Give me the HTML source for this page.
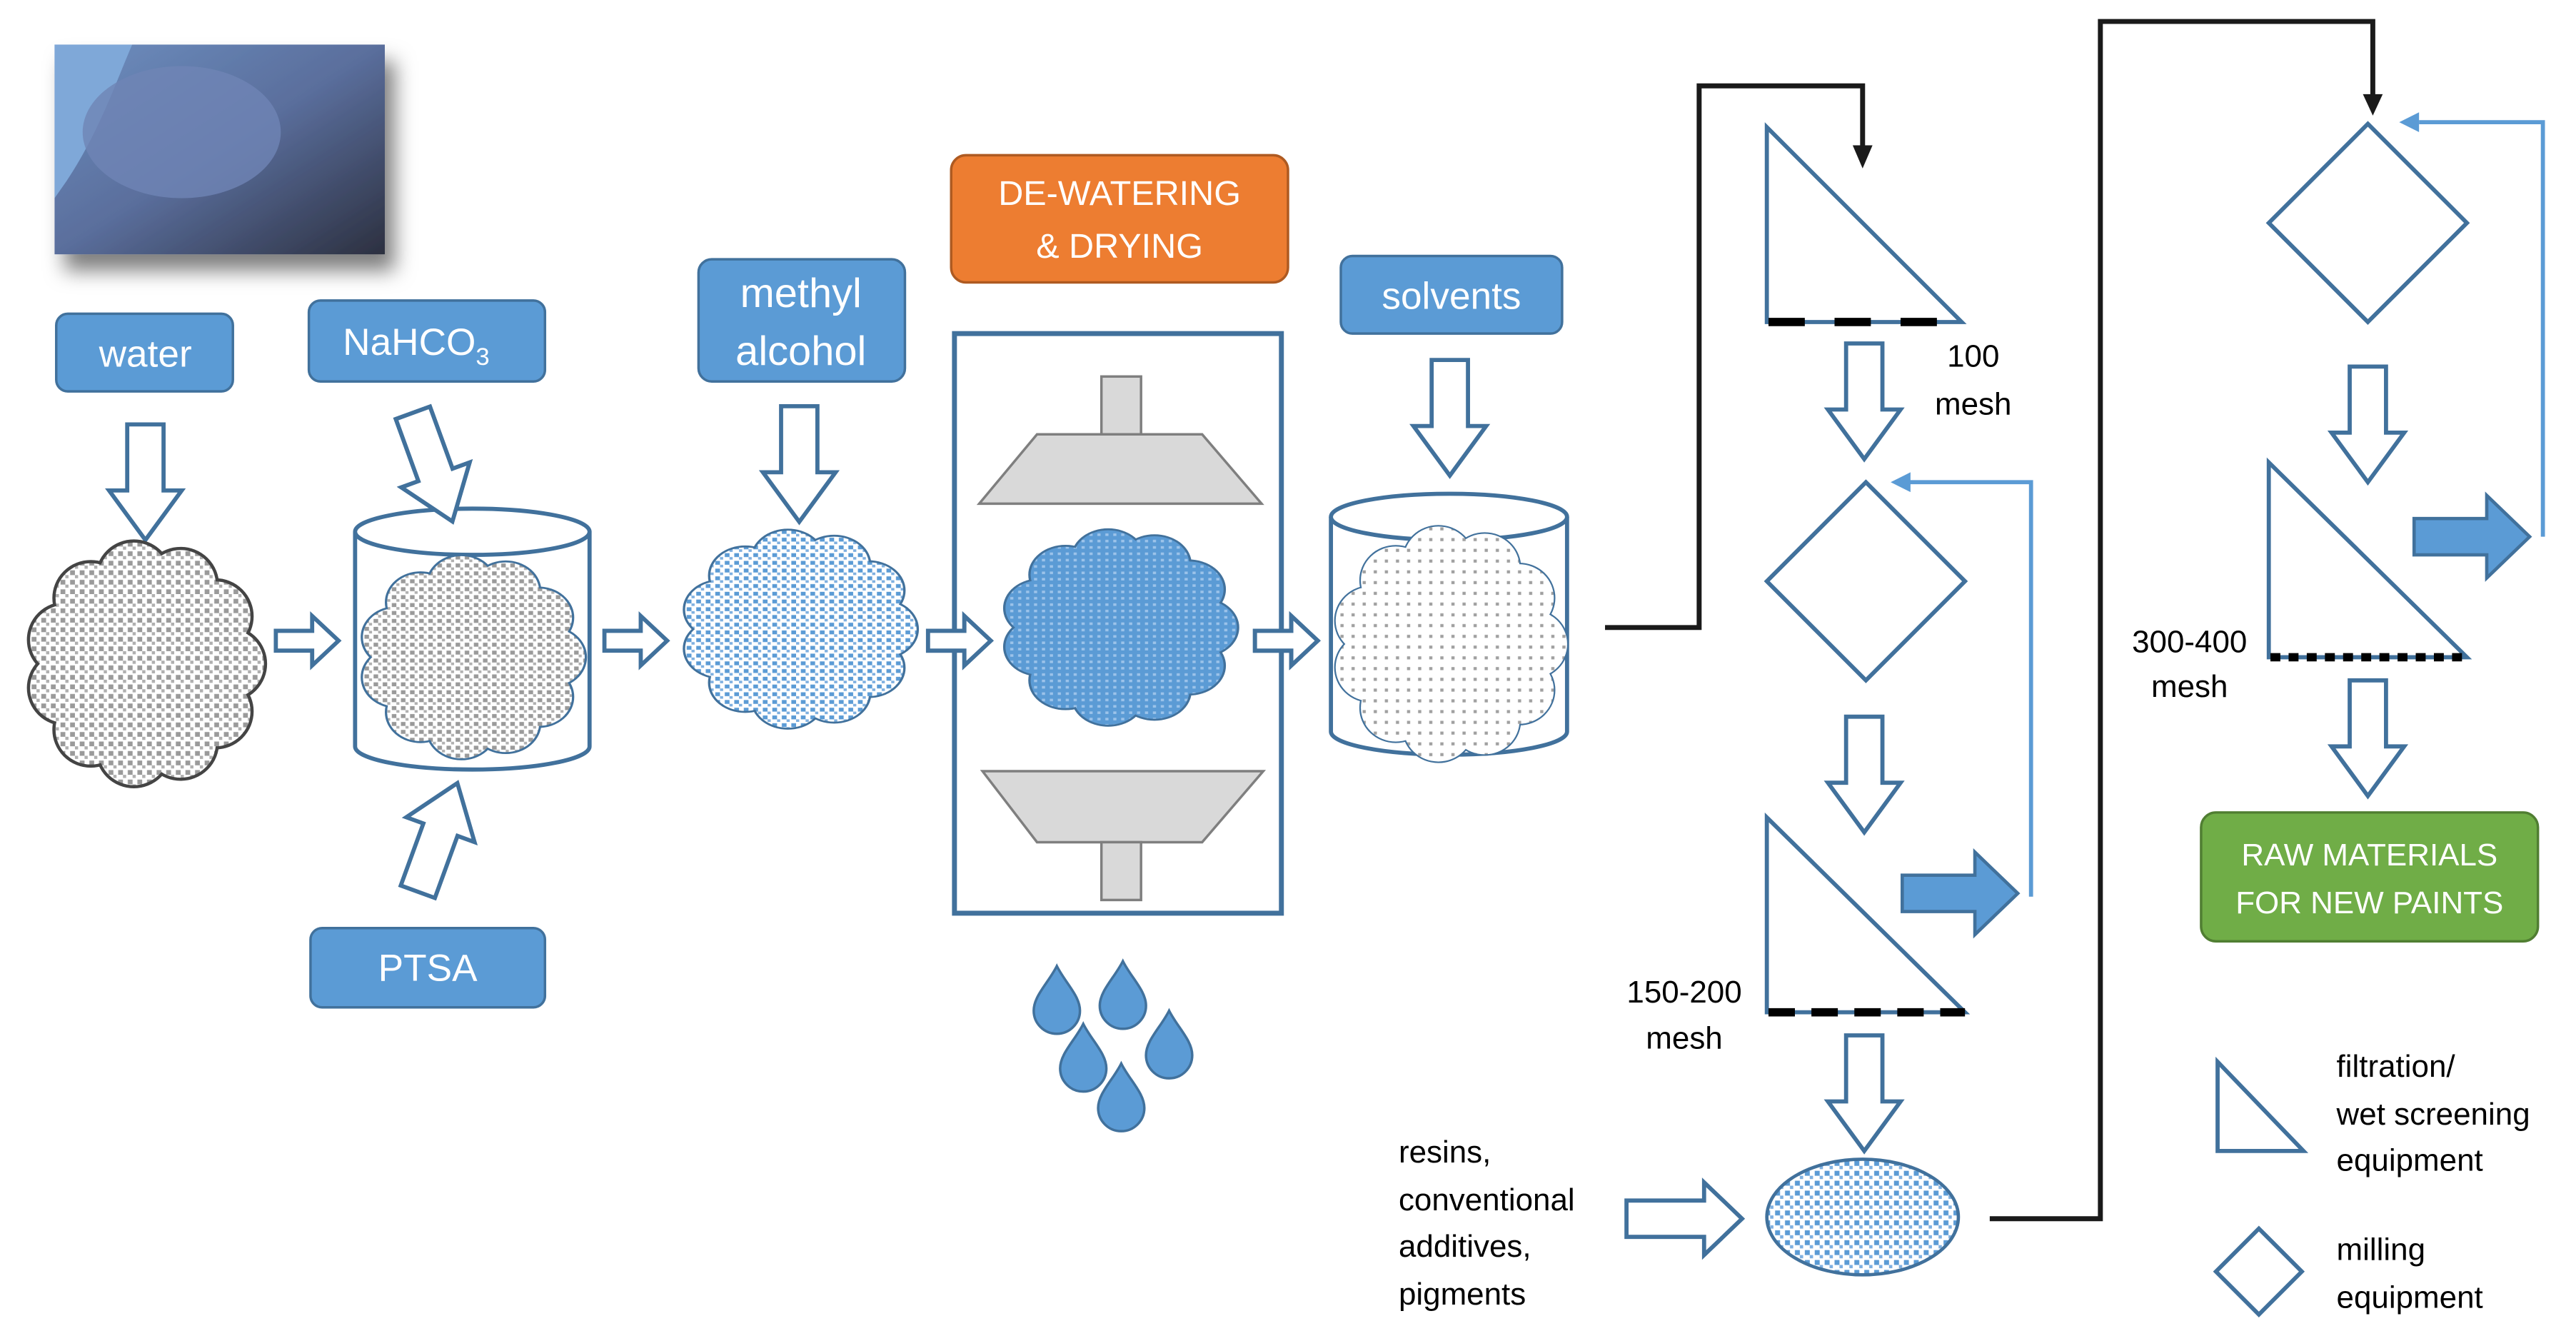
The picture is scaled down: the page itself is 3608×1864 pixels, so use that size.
<!DOCTYPE html>
<html><head><meta charset="utf-8"><style>
html,body{margin:0;padding:0;background:#fff;}
svg{display:block;font-family:"Liberation Sans",sans-serif;}
</style></head><body>
<svg width="3608" height="1864" viewBox="0 0 1560 806" xmlns="http://www.w3.org/2000/svg">
<defs>
<pattern id="pg" width="6" height="6" patternUnits="userSpaceOnUse"><rect width="6" height="6" fill="#fff"/><rect x="1" y="1" width="3" height="3" fill="#9a9a9a"/><rect x="4" y="4" width="2" height="2" fill="#b0b0b0"/></pattern>
<pattern id="pb" width="6" height="6" patternUnits="userSpaceOnUse"><rect width="6" height="6" fill="#fff"/><rect x="1" y="1" width="3" height="3" fill="#5b9bd5"/><rect x="4" y="4" width="2" height="2" fill="#7fb0e0"/></pattern>
<pattern id="pd" width="5" height="5" patternUnits="userSpaceOnUse"><rect width="5" height="5" fill="#5b9bd5"/><rect x="1" y="1" width="2" height="2" fill="#9cc3ea"/></pattern>
<pattern id="ps" width="7" height="7" patternUnits="userSpaceOnUse"><rect width="7" height="7" fill="#fff"/><rect x="1" y="1" width="2" height="2" fill="#a0a0a0"/></pattern>
<linearGradient id="ph" x1="0" y1="0" x2="1" y2="1"><stop offset="0" stop-color="#6d8fc0"/><stop offset="0.5" stop-color="#5a6e9c"/><stop offset="1" stop-color="#2c3040"/></linearGradient>
<filter id="sh" x="-20%" y="-20%" width="150%" height="160%"><feDropShadow dx="6" dy="10" stdDeviation="6" flood-color="#000" flood-opacity="0.5"/></filter>
<g id="cc">
<circle cx="52" cy="0" r="22"/><circle cx="43.6" cy="30" r="22"/><circle cx="22" cy="49.8" r="22"/><circle cx="-7.2" cy="54.5" r="22"/><circle cx="-34.1" cy="41.5" r="22"/><circle cx="-50" cy="15.2" r="22"/><circle cx="-50" cy="-15.2" r="22"/><circle cx="-34.1" cy="-41.5" r="22"/><circle cx="-7.2" cy="-54.5" r="22"/><circle cx="22" cy="-49.8" r="22"/><circle cx="43.6" cy="-30" r="22"/><ellipse cx="0" cy="0" rx="55" ry="58"/>
</g>
<path id="da" d="M-11,0 L11,0 L11,40 L22,40 L0,70 L-22,40 L-11,40 Z" fill="#fff" stroke="#41719c" stroke-width="2.5"/>
<path id="ra" d="M0,-6 L22,-6 L22,-15 L38,0 L22,15 L22,6 L0,6 Z" fill="#fff" stroke="#41719c" stroke-width="2.5"/>
<path id="drop" d="M0,-20 C5,-10 14,-2 14,7 A14,14 0 0 1 -14,7 C-14,-2 -5,-10 0,-20 Z" fill="#5b9bd5" stroke="#41719c" stroke-width="1.5"/>
</defs>

<!-- photo -->
<rect x="33" y="27" width="200" height="127" fill="url(#ph)" filter="url(#sh)"/>
<path d="M33,27 L80,27 C70,50 60,80 40,110 L33,120Z" fill="#7fa8d8"/>
<ellipse cx="110" cy="80" rx="60" ry="40" fill="#6f85b5" opacity="0.8"/>

<!-- labels -->
<g fill="#5b9bd5" stroke="#41719c" stroke-width="1.5">
<rect x="34" y="190" width="107" height="47" rx="7"/>
<rect x="187" y="182" width="143" height="49" rx="7"/>
<rect x="423" y="157" width="125" height="74" rx="8"/>
<rect x="812" y="155" width="134" height="47" rx="7"/>
<rect x="188" y="562" width="142" height="48" rx="7"/>
</g>
<rect x="576" y="94" width="204" height="77" rx="9" fill="#ed7d31" stroke="#ae5a21" stroke-width="1.5"/>
<rect x="1333" y="492" width="204" height="78" rx="9" fill="#70ad47" stroke="#507e32" stroke-width="1.5"/>
<g fill="#fff" font-size="23" text-anchor="middle">
<text x="88" y="222">water</text>
<text x="252" y="215">NaHCO<tspan font-size="15" dy="6">3</tspan></text>
<text x="485" y="186" font-size="25">methyl</text>
<text x="485" y="221" font-size="25">alcohol</text>
<text x="879" y="187">solvents</text>
<text x="259" y="594">PTSA</text>
<text x="678" y="124" font-size="21">DE-WATERING</text>
<text x="678" y="156" font-size="21">&amp; DRYING</text>
<text x="1435" y="524" font-size="19">RAW MATERIALS</text>
<text x="1435" y="553" font-size="19">FOR NEW PAINTS</text>
</g>

<!-- arrows -->
<use href="#da" x="88" y="257"/>
<use href="#da" transform="translate(250,250) rotate(-20)"/>
<use href="#da" transform="translate(253,540) rotate(200)"/>
<use href="#da" x="484" y="246"/>
<use href="#da" x="878" y="218"/>
<use href="#ra" x="167" y="388"/>
<use href="#ra" x="366" y="388"/>
<use href="#ra" x="562" y="388"/>
<use href="#ra" x="760" y="388"/>

<!-- cloud 1 -->
<g transform="translate(88,402) scale(0.97,0.96)"><use href="#cc" fill="none" stroke="#444" stroke-width="4" vector-effect="non-scaling-stroke"/><use href="#cc" fill="url(#pg)"/></g>
<!-- cylinder 1 -->
<rect x="215" y="322" width="142" height="130" fill="#fff" stroke="none"/>
<path d="M215,322 L215,452 A71,14 0 0 0 357,452 L357,322" fill="none" stroke="#41719c" stroke-width="2.5"/>
<ellipse cx="286" cy="322" rx="71" ry="14" fill="#fff" stroke="#41719c" stroke-width="2.5"/>
<g transform="translate(286,398) scale(0.92,0.80)"><use href="#cc" fill="none" stroke="#41719c" stroke-width="3" vector-effect="non-scaling-stroke"/><use href="#cc" fill="url(#pg)"/></g>
<use href="#da" transform="translate(250,250) rotate(-20)"/>
<!-- cloud 3 -->
<g transform="translate(484,381) scale(0.96,0.78)"><use href="#cc" fill="none" stroke="#41719c" stroke-width="3" vector-effect="non-scaling-stroke"/><use href="#cc" fill="url(#pb)"/></g>

<!-- dewatering box -->
<rect x="578" y="202" width="198" height="351" fill="none" stroke="#41719c" stroke-width="3"/>
<g fill="#d9d9d9" stroke="#7f7f7f" stroke-width="1.5">
<rect x="667" y="228" width="24" height="35"/>
<path d="M628,263 L728,263 L764,305 L593,305 Z"/>
<path d="M595,467 L765,467 L728,510 L628,510 Z"/>
<rect x="667" y="510" width="24" height="35"/>
</g>
<g transform="translate(678,380) scale(0.96,0.77)"><use href="#cc" fill="none" stroke="#41719c" stroke-width="3" vector-effect="non-scaling-stroke"/><use href="#cc" fill="url(#pd)"/></g>
<use href="#ra" x="562" y="388"/>
<use href="#ra" x="760" y="388"/>

<!-- drops -->
<use href="#drop" x="640" y="605"/>
<use href="#drop" x="680" y="602"/>
<use href="#drop" x="656" y="640"/>
<use href="#drop" x="708" y="632"/>
<use href="#drop" x="679" y="664"/>

<!-- cylinder 2 -->
<rect x="806" y="313" width="143" height="130" fill="#fff"/>
<path d="M806,313 L806,443 A71.5,14 0 0 0 949,443 L949,313" fill="none" stroke="#41719c" stroke-width="2.5"/>
<ellipse cx="877.5" cy="313" rx="71.5" ry="14" fill="#fff" stroke="#41719c" stroke-width="2.5"/>
<g transform="translate(878,390) scale(0.96,0.93)"><use href="#cc" fill="none" stroke="#41719c" stroke-width="2" vector-effect="non-scaling-stroke"/><use href="#cc" fill="url(#ps)"/></g>
<use href="#ra" x="760" y="388"/>

<!-- right black lines -->
<g fill="none" stroke="#1a1a1a" stroke-width="3">
<path d="M972,380 L1029,380 L1029,52 L1128,52 L1128,92"/>
<path d="M1205,738 L1272,738 L1272,13 L1437,13 L1437,60"/>
</g>
<path d="M1122,88 L1134,88 L1128,102 Z" fill="#1a1a1a"/>
<path d="M1431,57 L1443,57 L1437,70 Z" fill="#1a1a1a"/>

<!-- blue feedback lines -->
<g fill="none" stroke="#5b9bd5" stroke-width="2.5">
<path d="M1230,543 L1230,292 L1155,292"/>
<path d="M1540,325 L1540,74 L1465,74"/>
</g>
<path d="M1145,292 L1157,286 L1157,298 Z" fill="#5b9bd5"/>
<path d="M1453,74 L1465,68 L1465,80 Z" fill="#5b9bd5"/>

<!-- equipment -->
<g fill="#fff" stroke="#41719c" stroke-width="2.5">
<path d="M1070,77 L1070,195 L1188,195 Z"/>
<path d="M1130,292 L1190,352 L1130,412 L1070,352 Z"/>
<path d="M1070,495 L1070,613 L1190,613 Z"/>
<path d="M1434,75 L1494,135 L1434,195 L1374,135 Z"/>
<path d="M1374,280 L1374,398 L1494,398 Z"/>
<path d="M1343,643 L1343,697 L1395,697 Z"/>
<path d="M1368,744 L1394,770 L1368,796 L1342,770 Z"/>
</g>
<g stroke="#000" stroke-width="5">
<path d="M1071,195 L1188,195" stroke-dasharray="22,18"/>
<path d="M1071,613 L1190,613" stroke-dasharray="16,10"/>
<path d="M1375,398 L1494,398" stroke-dasharray="6,5"/>
</g>
<use href="#da" x="1129" y="208"/>
<use href="#da" x="1129" y="434"/>
<use href="#da" x="1129" y="627"/>
<use href="#da" x="1434" y="222"/>
<use href="#da" x="1434" y="412"/>
<path d="M1152,530 L1196,530 L1196,516 L1222,541 L1196,566 L1196,552 L1152,552 Z" fill="#5b9bd5" stroke="#41719c" stroke-width="2"/>
<path d="M1462,314 L1506,314 L1506,300 L1532,325 L1506,350 L1506,336 L1462,336 Z" fill="#5b9bd5" stroke="#41719c" stroke-width="2"/>
<path d="M985,727 L1032,727 L1032,716 L1055,738 L1032,760 L1032,749 L985,749 Z" fill="#fff" stroke="#41719c" stroke-width="2.5"/>
<ellipse cx="1128" cy="737" rx="58" ry="35" fill="url(#pb)" stroke="#41719c" stroke-width="2"/>

<!-- texts -->
<g fill="#000" font-size="19">
<text x="1195" y="222" text-anchor="middle">100</text>
<text x="1195" y="251" text-anchor="middle">mesh</text>
<text x="1020" y="607" text-anchor="middle">150-200</text>
<text x="1020" y="635" text-anchor="middle">mesh</text>
<text x="1326" y="395" text-anchor="middle">300-400</text>
<text x="1326" y="422" text-anchor="middle">mesh</text>
<text x="847" y="704">resins,</text>
<text x="847" y="733">conventional</text>
<text x="847" y="761">additives,</text>
<text x="847" y="790">pigments</text>
<text x="1415" y="652">filtration/</text>
<text x="1415" y="681">wet screening</text>
<text x="1415" y="709">equipment</text>
<text x="1415" y="763">milling</text>
<text x="1415" y="792">equipment</text>
</g>
</svg>
</body></html>
